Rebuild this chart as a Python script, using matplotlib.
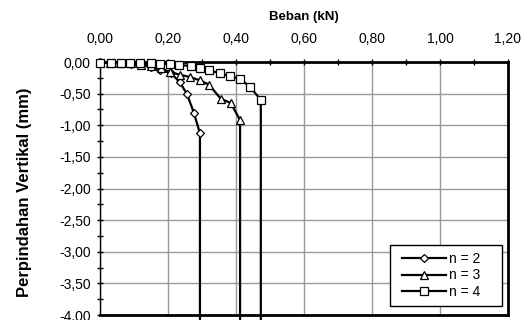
import matplotlib
matplotlib.use('Agg')
import matplotlib.pyplot as plt
from matplotlib.lines import Line2D
from matplotlib.legend_handler import HandlerLine2D
from matplotlib.ticker import MultipleLocator, FuncFormatter

plt.rcParams['font.family'] = ['Liberation Sans', 'DejaVu Sans']

# data (beban kN, perpindahan mm); last point = vertical drop
beban_n2 = [0.00, 0.03, 0.06, 0.09, 0.12, 0.15, 0.176, 0.209, 0.235, 0.256, 0.276, 0.294, 0.294]
turun_n2 = [0.00, -0.01, -0.02, -0.03, -0.05, -0.08, -0.12, -0.18, -0.32, -0.51, -0.80, -1.13, -4.20]

beban_n3 = [0.00, 0.03, 0.06, 0.09, 0.12, 0.15, 0.18, 0.206, 0.235, 0.266, 0.294, 0.321, 0.355, 0.385, 0.412, 0.412]
turun_n3 = [0.00, -0.01, -0.01, -0.02, -0.04, -0.06, -0.10, -0.16, -0.20, -0.24, -0.29, -0.36, -0.58, -0.65, -0.92, -4.20]

beban_n4 = [0.00, 0.031, 0.062, 0.088, 0.118, 0.150, 0.176, 0.206, 0.232, 0.267, 0.294, 0.321,
            0.353, 0.382, 0.412, 0.441, 0.473, 0.473]
turun_n4 = [-0.01, -0.01, -0.01, -0.01, -0.02, -0.02, -0.03, -0.03, -0.05, -0.06, -0.09, -0.13,
            -0.18, -0.22, -0.27, -0.39, -0.60, -4.20]

fig = plt.figure(figsize=(5.28, 3.2), dpi=100)
ax = fig.add_axes([0.1894, 0.0156, 0.7727, 0.7906])

ax.plot(beban_n2, turun_n2, color='black', lw=1.6, marker='D', ms=4.2, mfc='white', mec='black',
        mew=0.9, markevery=slice(0, -1), clip_on=False, label='n = 2', zorder=4)
ax.plot(beban_n3, turun_n3, color='black', lw=1.6, marker='^', ms=6.3, mfc='white', mec='black',
        mew=0.9, markevery=slice(0, -1), clip_on=False, label='n = 3', zorder=4)
ax.plot(beban_n4, turun_n4, color='black', lw=1.6, marker='s', ms=5.5, mfc='white', mec='black',
        mew=0.9, markevery=slice(0, -1), clip_on=False, label='n = 4', zorder=5)

ax.set_xlim(0, 1.2)
ax.set_ylim(-4.0, 0.0)

ax.xaxis.set_major_locator(MultipleLocator(0.2))
ax.xaxis.set_minor_locator(MultipleLocator(0.1))
ax.yaxis.set_major_locator(MultipleLocator(0.5))
ax.yaxis.set_minor_locator(MultipleLocator(0.25))
fmt = FuncFormatter(lambda v, p: ('%.2f' % v).replace('.', ','))
ax.xaxis.set_major_formatter(fmt)
ax.yaxis.set_major_formatter(fmt)

ax.xaxis.tick_top()
ax.xaxis.set_label_position('top')
ax.tick_params(axis='both', which='both', direction='inout', labelsize=10, width=1, colors='black')
ax.tick_params(axis='both', which='major', length=5)
ax.tick_params(axis='both', which='minor', length=4)
ax.tick_params(axis='x', pad=9)
ax.tick_params(axis='y', pad=4)

ax.grid(True, which='major', color='#999999', lw=1)
ax.set_axisbelow(True)

for s in ['top', 'right', 'bottom']:
    ax.spines[s].set_linewidth(2)
ax.spines['left'].set_linewidth(1)

ax.set_xlabel('Beban (kN)', fontsize=9.5, fontweight='bold')
ax.xaxis.label.set_va('center')
ax.xaxis.set_label_coords(0.5, 1.178)
ax.set_ylabel('Perpindahan Vertikal (mm)', fontsize=12, fontweight='bold')
ax.yaxis.label.set_va('center')
ax.yaxis.set_label_coords(-0.186, 0.484)

# legend box like the excel one: fixed width, handle shifted right a bit
leg = ax.legend(loc='lower left', bbox_to_anchor=(0.711, 0.036, 0.2745, 0.241), mode='expand',
                fontsize=10, frameon=True, fancybox=False, edgecolor='black', framealpha=1,
                handlelength=3.56, borderpad=0.5, labelspacing=0.18, handletextpad=0.15,
                borderaxespad=0, handler_map={Line2D: HandlerLine2D(xpad=0.39)})
leg.get_frame().set_linewidth(1)

fig.savefig('out.png', dpi=100)
